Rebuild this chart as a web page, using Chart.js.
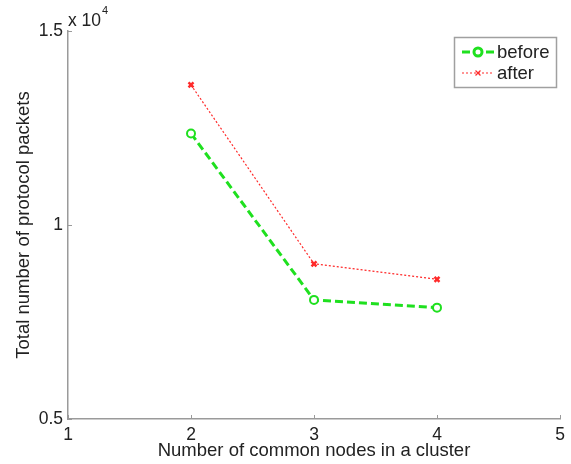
<!DOCTYPE html>
<html>
<head>
<meta charset="utf-8">
<script src="https://cdn.jsdelivr.net/npm/chart.js@4/dist/chart.umd.min.js"></script>
<style>
  html, body { margin: 0; padding: 0; background: #fff; }
  #wrap { width: 571px; height: 464px; }
</style>
</head>
<body>
<div id="wrap"><canvas id="chart" width="571" height="464"></canvas></div>
<script>
// data
const nodes = [2, 3, 4];
const before = [12360, 8070, 7870];
const after = [13610, 9000, 8600];
const xTicks = [1, 2, 3, 4, 5];
const yTicks = [5000, 10000, 15000];

const FONT = "'Liberation Sans', Arial, sans-serif";
const AXIS_GRAY = "#9a9a9a";
const GREEN = "#1fe01f";
const RED = "#ff2a2a";

// small inward tick marks, matlab style
const innerTicks = {
    id: "innerTicks",
    afterDraw(chart) {
        const ctx = chart.ctx;
        const x = chart.scales.x, y = chart.scales.y;
        const a = chart.chartArea;
        ctx.save();
        ctx.strokeStyle = AXIS_GRAY;
        ctx.lineWidth = 1;
        ctx.beginPath();
        xTicks.forEach(v => {
            const px = Math.round(x.getPixelForValue(v)) + 0.5;
            ctx.moveTo(px, a.bottom);
            ctx.lineTo(px, a.bottom - 4);
        });
        yTicks.forEach(v => {
            const py = Math.round(y.getPixelForValue(v)) + 0.5;
            ctx.moveTo(a.left, py);
            ctx.lineTo(a.left + 4, py);
        });
        ctx.stroke();

        // exponent label
        ctx.fillStyle = "#222";
        ctx.textBaseline = "alphabetic";
        ctx.font = "17.5px " + FONT;
        ctx.fillText("x 10", a.left, 26);
        const w = ctx.measureText("x 10").width;
        ctx.font = "11px " + FONT;
        ctx.fillText("4", a.left + w + 1, 14);
        ctx.restore();
    }
};

// boxed legend with line samples
const boxLegend = {
    id: "boxLegend",
    afterDraw(chart) {
        const ctx = chart.ctx;
        const bx = 454.5, by = 37.5, bw = 102, bh = 50;
        ctx.save();
        ctx.fillStyle = "#fff";
        ctx.fillRect(bx, by, bw, bh);
        ctx.strokeStyle = "#a0a0a0";
        ctx.lineWidth = 1.5;
        ctx.strokeRect(bx, by, bw, bh);

        const rows = [
            { label: "before", y: 52, ds: chart.data.datasets[0] },
            { label: "after", y: 73, ds: chart.data.datasets[1] }
        ];
        rows.forEach(r => {
            ctx.strokeStyle = r.ds.borderColor;
            ctx.lineWidth = r.ds.borderWidth;
            ctx.setLineDash(r.ds.borderDash);
            ctx.beginPath();
            ctx.moveTo(462, r.y);
            ctx.lineTo(494, r.y);
            ctx.stroke();
            ctx.setLineDash([]);
            Chart.helpers.drawPoint(ctx, {
                pointStyle: r.ds.pointStyle,
                radius: r.ds.pointRadius,
                borderWidth: r.ds.pointBorderWidth,
                rotation: 0
            }, 478, r.y);
            ctx.fillStyle = "#222";
            ctx.font = "18.5px " + FONT;
            ctx.textBaseline = "middle";
            ctx.fillText(r.label, 497, r.y + 1);
        });
        ctx.restore();
    }
};

new Chart(document.getElementById("chart").getContext("2d"), {
    type: "line",
    data: {
        datasets: [
            {
                label: "before",
                data: nodes.map((n, i) => ({ x: n, y: before[i] })),
                borderColor: GREEN,
                backgroundColor: "#fff",
                borderWidth: 3,
                borderDash: [8, 4],
                pointStyle: "circle",
                pointRadius: 4,
                pointBorderWidth: 2,
                pointBorderColor: GREEN,
                pointBackgroundColor: "#fff",
                fill: false,
                tension: 0
            },
            {
                label: "after",
                data: nodes.map((n, i) => ({ x: n, y: after[i] })),
                borderColor: RED,
                backgroundColor: RED,
                borderWidth: 1.2,
                borderDash: [2, 2],
                pointStyle: "crossRot",
                pointRadius: 3.5,
                pointBorderWidth: 2.5,
                pointBorderColor: RED,
                fill: false,
                tension: 0
            }
        ]
    },
    options: {
        responsive: false,
        animation: false,
        events: [],
        layout: { padding: { left: 0, right: 11, top: 31, bottom: 0 } },
        plugins: {
            legend: { display: false },
            tooltip: { enabled: false }
        },
        scales: {
            x: {
                type: "linear",
                min: 1,
                max: 5,
                afterFit: s => { s.height = 45; },
                afterBuildTicks: s => { s.ticks = xTicks.map(v => ({ value: v })); },
                grid: { display: false, drawTicks: false },
                border: { display: true, color: AXIS_GRAY, width: 1.5 },
                ticks: {
                    color: "#222",
                    padding: 6,
                    maxRotation: 0,
                    font: { family: FONT, size: 17.5 }
                },
                title: {
                    display: true,
                    text: "Number of common nodes in a cluster",
                    color: "#222",
                    padding: { top: 0, bottom: 2 },
                    font: { family: FONT, size: 18.5 }
                }
            },
            y: {
                type: "linear",
                min: 5000,
                max: 15000,
                afterFit: s => { s.width = 68; },
                afterBuildTicks: s => { s.ticks = yTicks.map(v => ({ value: v })); },
                grid: { display: false, drawTicks: false },
                border: { display: true, color: AXIS_GRAY, width: 1.5 },
                ticks: {
                    color: "#222",
                    padding: 5,
                    font: { family: FONT, size: 17.5 },
                    callback: v => String(v / 10000)
                },
                title: {
                    display: true,
                    text: "Total number of protocol packets",
                    color: "#222",
                    padding: { top: 12.5, bottom: 0 },
                    font: { family: FONT, size: 18.5 }
                }
            }
        }
    },
    plugins: [innerTicks, boxLegend]
});
</script>
</body>
</html>
